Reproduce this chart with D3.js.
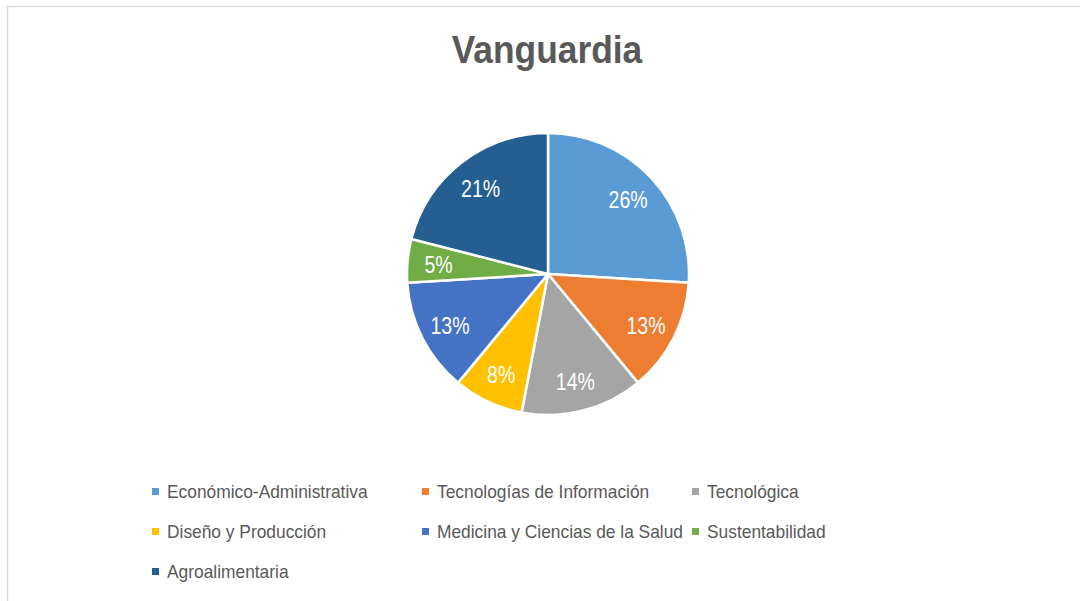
<!DOCTYPE html>
<html>
<head>
	<meta charset="utf-8" />
	<title>Vanguardia</title>
	<script src="https://cdnjs.cloudflare.com/ajax/libs/d3/7.8.5/d3.min.js"></script>
	<style>
		html, body { margin: 0; background: #fff; }
		svg { display: block; }
	</style>
</head>
<body>
<div id="chart"></div>
<script>
	// datos
	var categorias = ["Económico-Administrativa", "Tecnologías de Información", "Tecnológica",
		"Diseño y Producción", "Medicina y Ciencias de la Salud", "Sustentabilidad", "Agroalimentaria"];
	var valores = [26, 13, 14, 8, 13, 5, 21];
	var colores = ["#5B9BD5", "#ED7D31", "#A5A5A5", "#FFC000", "#4472C4", "#70AD47", "#255E91"];

	var W = 1080, H = 601;
	var svg = d3.select("#chart").append("svg").attr("width", W).attr("height", H);

	// marco
	svg.append("rect").attr("x", 7.5).attr("y", 6.5).attr("width", W + 10).attr("height", H + 10)
		.attr("fill", "#fff").attr("stroke", "#d9d9d9").attr("stroke-width", 1.5);

	svg.append("text").attr("x", 547).attr("y", 63)
		.attr("text-anchor", "middle")
		.attr("font-family", "Liberation Sans, Arial, sans-serif")
		.attr("font-weight", "bold").attr("font-size", 38)
		.attr("fill", "#595959")
		.attr("transform", "translate(547,0) scale(0.93,1) translate(-547,0)")
		.text("Vanguardia");

	var cx = 548, cy = 274, r = 141;
	var pie = d3.pie().sort(null).value(function(d){ return d; });
	var arcs = pie(valores);
	var arc = d3.arc().innerRadius(0).outerRadius(r);
	var labelArc = d3.arc().innerRadius(r * 0.78).outerRadius(r * 0.78);
	var color = d3.scaleOrdinal().domain(categorias).range(colores);

	var g = svg.append("g").attr("transform", "translate(" + cx + "," + cy + ")");
	g.selectAll("path").data(arcs).enter().append("path")
		.attr("d", arc)
		.attr("fill", function(d, i){ return color(categorias[i]); })
		.attr("stroke", "#fff").attr("stroke-width", 2.5).attr("stroke-linejoin", "round");

	var total = d3.sum(valores);
	g.selectAll("text.lbl").data(arcs).enter().append("text")
		.attr("class", "lbl")
		.attr("transform", function(d){ return "translate(" + labelArc.centroid(d) + ") scale(0.85,1)"; })
		.attr("text-anchor", "middle").attr("dy", "0.42em")
		.attr("font-family", "Liberation Sans, Arial, sans-serif")
		.attr("font-size", 23).attr("fill", "#fff")
		.text(function(d){ return Math.round(d.data / total * 100) + "%"; });

	// leyenda
	var colX = [152, 422, 692], rowY = [492, 532, 572];
	var leg = svg.append("g");
	categorias.forEach(function(c, i){
		var x = colX[i % 3], y = rowY[Math.floor(i / 3)];
		leg.append("rect").attr("x", x).attr("y", y - 4).attr("width", 7).attr("height", 7).attr("fill", color(c));
		leg.append("text").attr("x", 0).attr("y", 0).attr("dy", "0.35em")
			.attr("transform", "translate(" + (x + 15) + "," + y + ") scale(0.965,1)")
			.attr("font-family", "Liberation Sans, Arial, sans-serif")
			.attr("font-size", 18).attr("fill", "#595959")
			.text(c);
	});
</script>
</body>
</html>
